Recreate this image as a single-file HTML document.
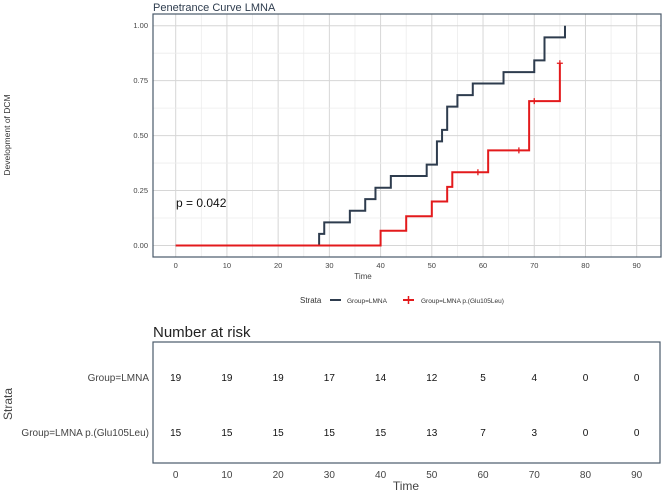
<!DOCTYPE html>
<html><head><meta charset="utf-8"><style>
body{margin:0;background:#fff;font-family:"Liberation Sans",sans-serif}
svg{display:block}
</style></head><body>
<svg id="c" width="669" height="493" viewBox="0 0 669 493">
<text x="153" y="11" font-size="11" fill="#2e3c4e">Penetrance Curve LMNA</text>
<text transform="translate(10,135) rotate(-90)" text-anchor="middle" font-size="8.5" fill="#333">Development of DCM</text>
<g id="grid"></g>
<g id="marks"></g>
<rect x="153" y="14" width="508" height="243" fill="none" stroke="#4a5a6a" stroke-width="1.2"/>
<text x="176" y="207" font-size="12" fill="#111">p = 0.042</text>
<text x="363" y="279" text-anchor="middle" font-size="8" fill="#444">Time</text>
<g>
<text x="300" y="303" font-size="8" fill="#333">Strata</text>
<line x1="330" y1="300" x2="341" y2="300" stroke="#2e3c4e" stroke-width="2"/>
<text x="347" y="303" font-size="6.5" fill="#333">Group=LMNA</text>
<line x1="403" y1="300" x2="414" y2="300" stroke="#e31a1c" stroke-width="2"/>
<line x1="408.5" y1="296" x2="408.5" y2="304" stroke="#e31a1c" stroke-width="1.5"/>
<text x="421" y="303" font-size="6.5" fill="#333">Group=LMNA p.(Glu105Leu)</text>
</g>
<text x="153" y="337" font-size="15" fill="#222">Number at risk</text>
<rect x="153" y="342" width="507" height="121" fill="none" stroke="#4a5a6a" stroke-width="1.2"/>
<text x="149" y="381" text-anchor="end" font-size="10" fill="#444">Group=LMNA</text>
<text x="149" y="436" text-anchor="end" font-size="10" fill="#444">Group=LMNA p.(Glu105Leu)</text>
<text transform="translate(12,404) rotate(-90)" text-anchor="middle" font-size="12" fill="#444">Strata</text>
<g id="risk"></g>
<text x="406" y="490" text-anchor="middle" font-size="12" fill="#444">Time</text>
</svg>
<script>
const xTicks=[0,10,20,30,40,50,60,70,80,90];
const yTicks=[0,0.25,0.5,0.75,1];
const yTickLabels=["0.00","0.25","0.50","0.75","1.00"];
const lmnaTimes=[0,28,29,34,37,39,42,49,51,52,53,55,58,64,70,72,76];
const lmnaValues=[0,0.053,0.105,0.158,0.211,0.263,0.316,0.368,0.474,0.526,0.632,0.684,0.737,0.789,0.842,0.947,1.0];
const gluTimes=[0,40,45,50,53,54,61,69,75];
const gluValues=[0,0.067,0.133,0.2,0.267,0.333,0.433,0.657,0.829];
const gluCensorTimes=[59,67,70,75];
const riskLmna=[19,19,19,17,14,12,5,4,0,0];
const riskGlu=[15,15,15,15,15,13,7,3,0,0];
const NS="http://www.w3.org/2000/svg";
const X=t=>175.7+t*(636.7-175.7)/90;
const Y=v=>245.5-v*(245.5-25.7);
function mk(tag,attrs,parent,txt){const e=document.createElementNS(NS,tag);for(const k in attrs)e.setAttribute(k,attrs[k]);if(txt!==undefined)e.textContent=txt;parent.appendChild(e);return e;}
const grid=document.getElementById('grid'),marks=document.getElementById('marks'),risk=document.getElementById('risk');
for(let i=0;i<xTicks.length;i++){
  const x=X(xTicks[i]);
  const l=mk('line',{x1:x,x2:x,y1:14,y2:257,stroke:'#d6d6d6','stroke-width':1},grid);
  
  
  if(i<xTicks.length-1){const m=mk('line',{x1:X(xTicks[i]+5),x2:X(xTicks[i]+5),y1:14,y2:257,stroke:'#ececec','stroke-width':0.8},grid);}
  const t=mk('text',{x:x,y:268,'text-anchor':'middle','font-size':7.5,fill:'#444'},grid,xTicks[i]);
  
  
  const r=mk('text',{x:x,y:478,'text-anchor':'middle','font-size':10,fill:'#444'},risk,xTicks[i]);
  
  
  const a=mk('text',{x:x,y:381,'text-anchor':'middle','font-size':10,fill:'#111'},risk,riskLmna[i]);
  
  
  const b=mk('text',{x:x,y:436,'text-anchor':'middle','font-size':10,fill:'#111'},risk,riskGlu[i]);
  
  
}
for(let i=0;i<yTicks.length;i++){
  const y=Y(yTicks[i]);
  const l=mk('line',{x1:153,x2:661,y1:y,y2:y,stroke:'#d6d6d6','stroke-width':1},grid);
  
  
  if(i<yTicks.length-1){mk('line',{x1:153,x2:661,y1:Y(yTicks[i]+0.125),y2:Y(yTicks[i]+0.125),stroke:'#ececec','stroke-width':0.8},grid);}
  const t=mk('text',{x:148,y:y+2.5,'text-anchor':'end','font-size':7.5,fill:'#444'},grid,yTickLabels[i]);
  
  
}
function stepPath(ts,vs){let d='M'+X(ts[0])+','+Y(vs[0]);for(let i=1;i<ts.length;i++){d+=' H'+X(ts[i])+' V'+Y(vs[i]);}return d;}
const p1=mk('path',{d:stepPath(lmnaTimes,lmnaValues),fill:'none',stroke:'#2e3c4e','stroke-width':2},marks);


const p2=mk('path',{d:stepPath(gluTimes,gluValues),fill:'none',stroke:'#e31a1c','stroke-width':2},marks);


function valAt(t){let v=0;for(let i=0;i<gluTimes.length;i++)if(gluTimes[i]<=t)v=gluValues[i];return v;}
gluCensorTimes.forEach(t=>{
  const x=X(t),y=Y(valAt(t));
  const g=mk('path',{d:`M${x-3},${y} H${x+3} M${x},${y-3} V${y+3}`,stroke:'#e31a1c','stroke-width':1.3},marks);
  
  
});
</script>
</body></html>
